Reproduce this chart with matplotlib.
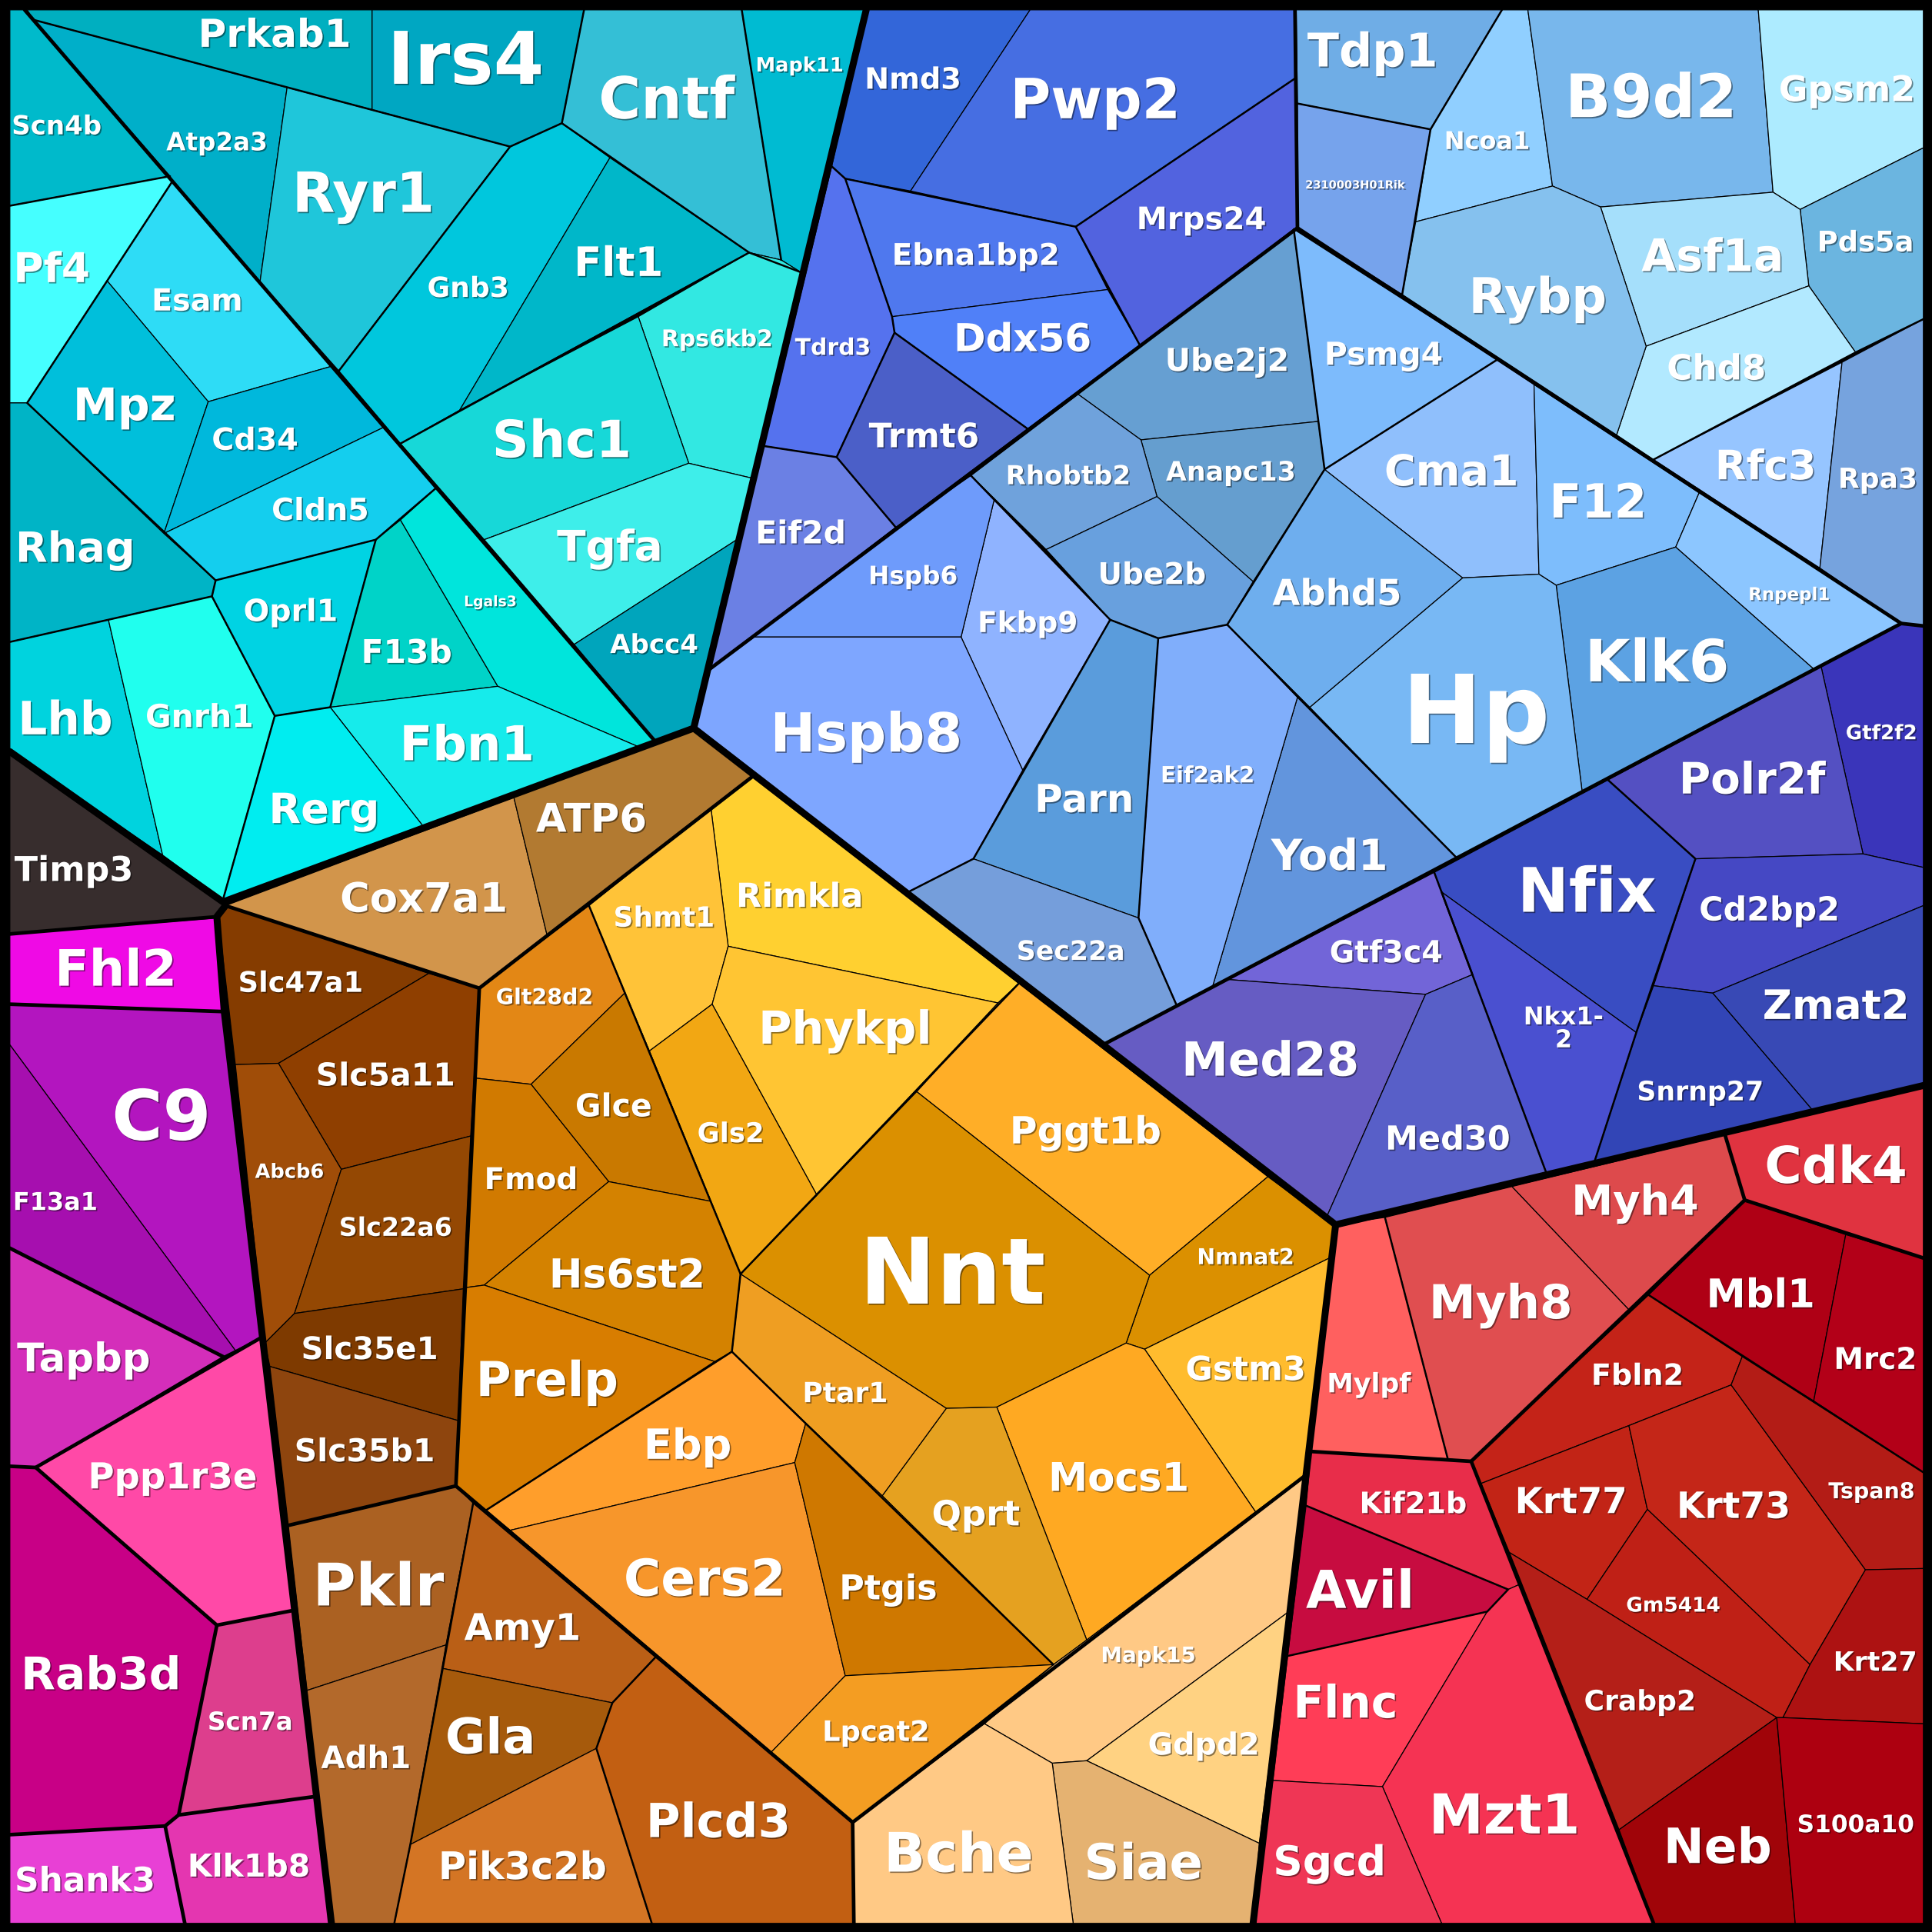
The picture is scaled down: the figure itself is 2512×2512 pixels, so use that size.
"""Voronoi treemap of mouse genes, white labels on coloured cells."""

import matplotlib
matplotlib.use("Agg")
import matplotlib.pyplot as plt
from matplotlib.patches import Polygon
import matplotlib.patheffects as pe

# polygon corners (1568 units across, y downwards)
CELLS = {
    "Prkab1": [(22,8),(302,8),(302,89),(233,71),(27,16)],
    "Irs4": [(302,8),(474,8),(456,100),(414,119),(302,89)],
    "Cntf": [(474,8),(602,8),(634,211),(608,205),(495,128),(456,100)],
    "Mapk11": [(602,8),(703,8),(650,221),(634,211)],
    "Atp2a3": [(27,16),(233,71),(211,229)],
    "Ryr1": [(233,71),(414,119),(275,301),(211,229)],
    "Gnb3": [(414,119),(456,100),(495,128),(373,333),(325,360),(275,301)],
    "Flt1": [(495,128),(608,205),(373,333)],
    "Rps6kb2": [(518,257),(608,205),(634,211),(650,221),(610,388),(559,376)],
    "Shc1": [(325,360),(373,333),(518,257),(559,376),(393,438)],
    "Tgfa": [(393,438),(559,376),(610,388),(598,438),(466,523)],
    "Abcc4": [(466,523),(598,438),(563,591),(532,602)],
    "Scn4b": [(8,8),(20,8),(138,143),(8,167)],
    "Pf4": [(8,167),(138,143),(140,147),(87,228),(22,327),(8,327)],
    "Esam": [(140,147),(270,297),(169,326),(87,228)],
    "Mpz": [(87,228),(169,326),(133,433),(22,327)],
    "Cd34": [(169,326),(270,297),(311,347),(133,433)],
    "Cldn5": [(133,433),(311,347),(354,396),(305,438),(175,471)],
    "Rhag": [(8,327),(22,327),(133,433),(175,471),(172,484),(88,503),(8,521)],
    "Lhb": [(8,521),(88,503),(132,694),(8,610)],
    "Gnrh1": [(88,503),(172,484),(223,581),(181,730),(132,694)],
    "Oprl1": [(172,484),(175,471),(305,438),(268,574),(223,581)],
    "F13b": [(305,438),(325,422),(404,557),(268,574)],
    "Lgals3": [(325,422),(354,396),(532,602),(518,606),(404,557)],
    "Fbn1": [(268,574),(404,557),(518,606),(343,670)],
    "Rerg": [(223,581),(268,574),(343,670),(181,730)],
    "Timp3": [(8,610),(181,730),(183,734),(176,744),(8,758)],
    "Cox7a1": [(183,735),(417,647),(444,759),(389,802)],
    "ATP6": [(417,647),(563,591),(611,630),(444,759)],
    "Rimkla": [(611,630),(827,798),(810,814),(591,768),(577,656)],
    "Shmt1": [(478,735),(577,656),(591,768),(578,815),(527,853)],
    "Phykpl": [(591,768),(810,814),(663,970),(578,815)],
    "Pggt1b": [(827,798),(1029,955),(933,1035),(744,886),(810,814)],
    "Nmnat2": [(1029,955),(1084,995),(1081,1020),(929,1095),(914,1090),(933,1035)],
    "Nnt": [(744,886),(933,1035),(914,1090),(809,1142),(768,1143),(601,1034),(663,970)],
    "Gstm3": [(1081,1020),(1060,1197),(1019,1227),(929,1095)],
    "Mocs1": [(914,1090),(929,1095),(1019,1227),(882,1331),(809,1142)],
    "Qprt": [(768,1143),(809,1142),(882,1331),(855,1351),(716,1214)],
    "Ptar1": [(601,1034),(768,1143),(716,1214),(654,1155),(594,1097)],
    "Gls2": [(527,853),(578,815),(663,970),(601,1034)],
    "Glt28d2": [(389,802),(478,735),(507,806),(431,880),(386,875)],
    "Glce": [(507,806),(527,853),(577,975),(494,959),(431,880)],
    "Fmod": [(386,875),(431,880),(494,959),(393,1043),(378,1045)],
    "Hs6st2": [(494,959),(577,975),(601,1034),(594,1097),(580,1105),(393,1043)],
    "Prelp": [(378,1045),(393,1043),(580,1105),(394,1226),(370,1206)],
    "Ebp": [(594,1097),(654,1155),(645,1187),(414,1242),(394,1226)],
    "Cers2": [(414,1242),(645,1187),(686,1360),(626,1422)],
    "Ptgis": [(654,1155),(716,1214),(855,1351),(686,1360),(645,1187)],
    "Lpcat2": [(686,1360),(855,1351),(692,1479),(626,1422)],
    "Mapk15": [(799,1399),(855,1351),(882,1331),(1060,1197),(1046,1308),(882,1429),(854,1431)],
    "Gdpd2": [(1046,1308),(1022,1496),(882,1429)],
    "Siae": [(854,1431),(882,1429),(1022,1496),(1017,1561),(871,1561)],
    "Bche": [(692,1479),(799,1399),(854,1431),(871,1561),(693,1561)],
    "Pklr": [(234,1238),(370,1206),(384,1220),(362,1335),(249,1372)],
    "Adh1": [(249,1372),(362,1335),(333,1497),(320,1561),(269,1561)],
    "Amy1": [(384,1220),(532,1345),(497,1382),(359,1354),(362,1335)],
    "Gla": [(359,1354),(497,1382),(484,1419),(333,1497)],
    "Pik3c2b": [(333,1497),(484,1419),(529,1561),(320,1561)],
    "Plcd3": [(532,1345),(692,1479),(693,1561),(529,1561),(484,1419),(497,1382)],
    "Slc47a1": [(177,743),(184,735),(348,790),(226,863),(191,864)],
    "Slc5a11": [(348,790),(389,802),(382,922),(277,949),(226,863)],
    "Abcb6": [(191,864),(226,863),(277,949),(239,1066),(215,1090)],
    "Slc22a6": [(277,949),(382,922),(376,1046),(239,1066)],
    "Slc35e1": [(239,1066),(376,1046),(372,1153),(219,1109),(215,1090)],
    "Slc35b1": [(219,1109),(372,1153),(370,1206),(234,1238)],
    "Fhl2": [(8,758),(176,745),(182,821),(8,815)],
    "C9": [(8,815),(182,821),(213,1085),(191,1096),(8,848)],
    "F13a1": [(8,848),(191,1096),(181,1101),(8,1013)],
    "Tapbp": [(8,1013),(181,1101),(29,1191),(8,1190)],
    "Ppp1r3e": [(29,1191),(213,1085),(238,1307),(176,1319)],
    "Rab3d": [(8,1190),(29,1191),(176,1319),(145,1473),(134,1482),(8,1489)],
    "Scn7a": [(176,1319),(238,1307),(256,1458),(145,1473)],
    "Klk1b8": [(145,1473),(256,1458),(269,1561),(150,1561),(134,1482)],
    "Shank3": [(8,1489),(134,1482),(150,1561),(8,1561)],
    "Nmd3": [(703,8),(836,8),(739,155),(686,145),(675,135)],
    "Pwp2": [(836,8),(1051,8),(1052,63),(873,184),(739,155)],
    "Mrps24": [(1052,63),(1053,185),(925,280),(873,184)],
    "Ebna1bp2": [(686,145),(873,184),(899,235),(724,257)],
    "Ddx56": [(724,257),(899,235),(925,280),(834,348),(726,270)],
    "Tdrd3": [(675,135),(686,145),(724,257),(726,270),(679,371),(620,362)],
    "Trmt6": [(726,270),(834,348),(727,428),(679,371)],
    "Eif2d": [(620,362),(679,371),(727,428),(576,543)],
    "Ube2j2": [(1050,186),(1070,342),(926,357),(875,320)],
    "Anapc13": [(926,357),(1070,342),(1075,381),(1017,472),(939,403)],
    "Rhobtb2": [(875,320),(926,357),(939,403),(849,446),(788,386)],
    "Ube2b": [(849,446),(939,403),(1017,472),(996,507),(940,518),(901,503)],
    "Psmg4": [(1050,186),(1215,292),(1075,381),(1070,342)],
    "Cma1": [(1215,292),(1245,312),(1249,466),(1187,469),(1075,381)],
    "F12": [(1245,312),(1379,400),(1360,444),(1263,475),(1249,466)],
    "Rnpepl1": [(1379,400),(1543,506),(1472,543),(1360,444)],
    "Klk6": [(1263,475),(1360,444),(1472,543),(1284,642)],
    "Hp": [(1187,469),(1249,466),(1263,475),(1284,642),(1182,696),(1063,574)],
    "Abhd5": [(1075,381),(1187,469),(1063,574),(996,507)],
    "Yod1": [(1053,566),(1182,696),(984,801)],
    "Eif2ak2": [(940,518),(996,507),(1053,566),(984,801),(955,816),(924,745)],
    "Parn": [(901,503),(940,518),(924,745),(790,697),(830,625)],
    "Fkbp9": [(807,405),(901,503),(830,625),(780,517)],
    "Hspb6": [(788,386),(807,405),(780,517),(612,517),(727,428)],
    "Hspb8": [(612,517),(780,517),(830,625),(790,697),(737,724),(563,591),(576,543)],
    "Sec22a": [(790,697),(924,745),(955,816),(897,847),(737,724)],
    "Tdp1": [(1052,8),(1219,8),(1161,105),(1053,84)],
    "2310003H01Rik": [(1053,84),(1161,105),(1149,180),(1138,239),(1053,185)],
    "Ncoa1": [(1219,8),(1240,8),(1260,151),(1149,180),(1161,105)],
    "B9d2": [(1240,8),(1427,8),(1439,156),(1299,168),(1260,151)],
    "Gpsm2": [(1427,8),(1561,8),(1561,120),(1461,170),(1439,156)],
    "Pds5a": [(1461,170),(1561,120),(1561,259),(1506,286),(1468,232)],
    "Asf1a": [(1299,168),(1439,156),(1461,170),(1468,232),(1336,281)],
    "Chd8": [(1336,281),(1468,232),(1506,286),(1342,373),(1312,353)],
    "Rybp": [(1149,180),(1260,151),(1299,168),(1336,281),(1312,353),(1138,239)],
    "Rfc3": [(1342,373),(1495,294),(1477,461)],
    "Rpa3": [(1495,294),(1561,259),(1561,508),(1543,506),(1477,461)],
    "Gtf2f2": [(1478,541),(1543,506),(1561,508),(1561,704),(1512,693)],
    "Polr2f": [(1305,633),(1478,541),(1512,693),(1376,697)],
    "Nfix": [(1164,708),(1305,633),(1376,697),(1342,800),(1328,838),(1170,724)],
    "Cd2bp2": [(1376,697),(1512,693),(1561,704),(1561,735),(1390,806),(1342,800)],
    "Zmat2": [(1390,806),(1561,735),(1561,881),(1471,901)],
    "Snrnp27": [(1342,800),(1390,806),(1471,901),(1294,943),(1328,838)],
    "Nkx1-\n2": [(1170,724),(1328,838),(1294,943),(1255,952)],
    "Gtf3c4": [(1164,708),(1170,724),(1195,791),(1157,807),(997,795)],
    "Med28": [(997,795),(1157,807),(1077,987),(1084,994),(897,847)],
    "Med30": [(1157,807),(1195,791),(1255,952),(1084,994),(1077,987)],
    "Cdk4": [(1400,921),(1561,881),(1561,1021),(1416,974)],
    "Myh4": [(1227,963),(1400,921),(1416,974),(1322,1063)],
    "Myh8": [(1124,988),(1227,963),(1322,1063),(1194,1186),(1175,1184)],
    "Mylpf": [(1084,994),(1124,988),(1175,1184),(1064,1178)],
    "Mbl1": [(1338,1051),(1416,974),(1498,1002),(1472,1137),(1414,1101)],
    "Mrc2": [(1498,1002),(1561,1021),(1561,1195),(1472,1137)],
    "Fbln2": [(1338,1051),(1414,1101),(1405,1124),(1322,1157),(1202,1204),(1194,1186)],
    "Krt77": [(1202,1204),(1322,1157),(1337,1225),(1288,1298),(1225,1260)],
    "Krt73": [(1322,1157),(1405,1124),(1514,1274),(1469,1351),(1337,1225)],
    "Gm5414": [(1288,1298),(1337,1225),(1469,1351),(1447,1394),(1442,1394)],
    "Crabp2": [(1225,1260),(1288,1298),(1442,1394),(1314,1485)],
    "Tspan8": [(1414,1101),(1561,1195),(1561,1273),(1514,1274),(1405,1124)],
    "Krt27": [(1514,1274),(1561,1273),(1561,1399),(1447,1394),(1469,1351)],
    "Neb": [(1314,1485),(1442,1394),(1457,1561),(1342,1561)],
    "S100a10": [(1442,1394),(1447,1394),(1561,1399),(1561,1561),(1457,1561)],
    "Kif21b": [(1064,1178),(1194,1186),(1233,1286),(1224,1290),(1060,1222)],
    "Avil": [(1060,1222),(1224,1290),(1207,1308),(1045,1344)],
    "Flnc": [(1045,1344),(1207,1308),(1122,1450),(1033,1445)],
    "Mzt1": [(1207,1308),(1224,1290),(1233,1286),(1342,1561),(1170,1561),(1122,1450)],
    "Sgcd": [(1033,1445),(1122,1450),(1170,1561),(1017,1561)],
}

COLORS = {
    "Prkab1": "#00AFC0", "Irs4": "#00A7C2", "Cntf": "#34BFD6", "Mapk11": "#00BBD2",
    "Atp2a3": "#00AFC9", "Ryr1": "#1FC6DA", "Gnb3": "#00C7DD", "Flt1": "#00B7C9",
    "Rps6kb2": "#32E8E2", "Shc1": "#17D8D8", "Tgfa": "#3EEEEA", "Abcc4": "#00A5BC",
    "Scn4b": "#00BACB", "Pf4": "#45FFFF", "Esam": "#2EDCF6", "Mpz": "#00BFDB",
    "Cd34": "#00B8DC", "Cldn5": "#14CEEE", "Rhag": "#00B4C6", "Lhb": "#00D3DE",
    "Gnrh1": "#20FFEE", "Oprl1": "#00D3E3", "F13b": "#00D3C8", "Lgals3": "#00E5DC",
    "Fbn1": "#16EBEB", "Rerg": "#00EDF0", "Timp3": "#372D2D",
    "Cox7a1": "#D2954B", "ATP6": "#B27A31", "Rimkla": "#FFD030", "Shmt1": "#FFC338",
    "Phykpl": "#FFC533", "Pggt1b": "#FFAE27", "Nmnat2": "#DB9000", "Nnt": "#DB9000",
    "Gstm3": "#FFBC2E", "Mocs1": "#FFA922", "Qprt": "#E5A120", "Ptar1": "#EF9E22",
    "Gls2": "#F2A713", "Glt28d2": "#E38715", "Glce": "#C97900", "Fmod": "#D17A00",
    "Hs6st2": "#D48200", "Prelp": "#D87D00", "Ebp": "#FF9E2B", "Cers2": "#F7962B",
    "Ptgis": "#CF7800", "Lpcat2": "#F49D22", "Mapk15": "#FFC985", "Gdpd2": "#FFD282",
    "Siae": "#E5B271", "Bche": "#FFC985", "Pklr": "#AB6122", "Adh1": "#B3692B",
    "Amy1": "#BA5F16", "Gla": "#A65A0C", "Pik3c2b": "#D47524", "Plcd3": "#C25F12",
    "Slc47a1": "#853C00", "Slc5a11": "#8F3F00", "Abcb6": "#A04D08", "Slc22a6": "#944803",
    "Slc35e1": "#7E3A00", "Slc35b1": "#8E450E", "Fhl2": "#EF0AE5", "C9": "#B315BF",
    "F13a1": "#A60FAF", "Tapbp": "#D42EBA", "Ppp1r3e": "#FF49A7", "Rab3d": "#C80086",
    "Scn7a": "#DD3E8D", "Klk1b8": "#E436B0", "Shank3": "#E840D5",
    "Nmd3": "#3366D9", "Pwp2": "#466EE2", "Mrps24": "#5263DF", "Ebna1bp2": "#4F78EE",
    "Ddx56": "#5080F8", "Tdrd3": "#5572EE", "Trmt6": "#4B5FC8", "Eif2d": "#6B80E4",
    "Hspb6": "#6E9BFB", "Fkbp9": "#8FB3FF", "Hspb8": "#7EA6FF", "Parn": "#5A9CDC",
    "Eif2ak2": "#80AEFB", "Yod1": "#6295DD", "Sec22a": "#759EDB", "Ube2j2": "#669FD2",
    "Anapc13": "#659ECF", "Rhobtb2": "#6FA2DC", "Ube2b": "#68A0DE", "Psmg4": "#7DBBFC",
    "Cma1": "#8FBFFC", "F12": "#7DBDFC", "Rnpepl1": "#8CC6FF", "Klk6": "#5CA2E3",
    "Hp": "#78B8F4", "Abhd5": "#6EAEEE", "Tdp1": "#6FADE6", "2310003H01Rik": "#76A3EC",
    "Ncoa1": "#90CFFF", "B9d2": "#78B7EC", "Gpsm2": "#ADEBFF", "Pds5a": "#6BB5E0",
    "Asf1a": "#A5DFFB", "Chd8": "#B2E9FF", "Rybp": "#85C1EE", "Rfc3": "#96C5FF",
    "Rpa3": "#76A3DE", "Gtf2f2": "#3A35BA", "Polr2f": "#5450C2", "Nfix": "#394DC2",
    "Cd2bp2": "#4548C4", "Zmat2": "#3849B5", "Snrnp27": "#3245B6", "Nkx1-\n2": "#4A50D0",
    "Gtf3c4": "#7265D8", "Med28": "#665CC3", "Med30": "#585FC8",
    "Cdk4": "#E03340", "Myh4": "#DD4A4C", "Myh8": "#E04E50", "Mylpf": "#FF605F",
    "Mbl1": "#AF0015", "Mrc2": "#B30018", "Fbln2": "#C42318", "Krt77": "#C22416",
    "Krt73": "#C42618", "Gm5414": "#BF2016", "Crabp2": "#B41F18", "Tspan8": "#B31C16",
    "Krt27": "#AD1212", "Neb": "#A00409", "S100a10": "#AD0010", "Kif21b": "#E82D4A",
    "Avil": "#C70C40", "Flnc": "#FF3D57", "Mzt1": "#F53353", "Sgcd": "#EF3655",
}

# label centre x and baseline y
LABEL_POS = {
    "Prkab1": (223,38), "Irs4": (378,68), "Cntf": (541,96), "Mapk11": (649,58),
    "Atp2a3": (176,122), "Ryr1": (295,172), "Gnb3": (380,241), "Flt1": (502,224),
    "Rps6kb2": (582,281), "Shc1": (456,371), "Tgfa": (495,455), "Abcc4": (531,530),
    "Scn4b": (46,109), "Pf4": (42,229), "Esam": (160,252), "Mpz": (101,341),
    "Cd34": (207,365), "Cldn5": (260,422), "Rhag": (61,456), "Lhb": (53,596),
    "Gnrh1": (162,590), "Oprl1": (236,504), "F13b": (330,538), "Lgals3": (398,492),
    "Fbn1": (379,617), "Rerg": (263,668), "Timp3": (60,715), "Cox7a1": (344,740),
    "ATP6": (480,675), "Rimkla": (649,736), "Shmt1": (539,752), "Phykpl": (686,847),
    "Pggt1b": (881,928), "Nmnat2": (1011,1026), "Nnt": (773,1058), "Gstm3": (1011,1120),
    "Mocs1": (908,1210), "Qprt": (792,1238), "Ptar1": (686,1138), "Gls2": (593,927),
    "Glt28d2": (442,815), "Glce": (498,906), "Fmod": (431,965), "Hs6st2": (509,1045),
    "Prelp": (444,1133), "Ebp": (558,1184), "Cers2": (572,1295), "Ptgis": (721,1298),
    "Lpcat2": (711,1413), "Mapk15": (932,1349), "Gdpd2": (977,1424), "Siae": (928,1525),
    "Bche": (778,1519), "Pklr": (307,1303), "Adh1": (297,1435), "Amy1": (424,1331),
    "Gla": (398,1423), "Pik3c2b": (424,1525), "Plcd3": (583,1491), "Slc47a1": (244,805),
    "Slc5a11": (313,881), "Abcb6": (235,956), "Slc22a6": (321,1003), "Slc35e1": (300,1103),
    "Slc35b1": (296,1186), "Fhl2": (94,800), "C9": (131,925), "F13a1": (45,982),
    "Tapbp": (68,1113), "Ppp1r3e": (140,1208), "Rab3d": (82,1371), "Scn7a": (203,1404),
    "Klk1b8": (202,1523), "Shank3": (69,1535), "Nmd3": (741,72), "Pwp2": (889,96),
    "Mrps24": (975,186), "Ebna1bp2": (792,215), "Ddx56": (830,285), "Tdrd3": (676,288),
    "Trmt6": (750,363), "Eif2d": (650,441), "Hspb6": (741,474), "Fkbp9": (834,513),
    "Hspb8": (703,610), "Parn": (880,659), "Eif2ak2": (980,635), "Yod1": (1079,706),
    "Sec22a": (869,779), "Ube2j2": (996,301), "Anapc13": (999,390), "Rhobtb2": (867,393),
    "Ube2b": (935,474), "Psmg4": (1123,296), "Cma1": (1178,394), "F12": (1297,420),
    "Rnpepl1": (1452,487), "Klk6": (1345,553), "Hp": (1198,603), "Abhd5": (1085,491),
    "Tdp1": (1114,54), "2310003H01Rik": (1100,153), "Ncoa1": (1207,121), "B9d2": (1340,95),
    "Gpsm2": (1499,82), "Pds5a": (1514,204), "Asf1a": (1390,220), "Chd8": (1393,308),
    "Rybp": (1248,254), "Rfc3": (1433,389), "Rpa3": (1524,396), "Gtf2f2": (1527,600),
    "Polr2f": (1422,644), "Nfix": (1288,740), "Cd2bp2": (1436,747), "Zmat2": (1490,827),
    "Snrnp27": (1380,893), "Nkx1-\n2": (1269,850), "Gtf3c4": (1125,781), "Med28": (1031,873),
    "Med30": (1175,933), "Cdk4": (1490,960), "Myh4": (1327,986), "Myh8": (1218,1070),
    "Mylpf": (1111,1130), "Mbl1": (1429,1061), "Mrc2": (1522,1111), "Fbln2": (1329,1124),
    "Krt77": (1275,1228), "Krt73": (1407,1232), "Gm5414": (1358,1308), "Crabp2": (1331,1388),
    "Tspan8": (1519,1216), "Krt27": (1522,1356), "Neb": (1394,1512), "S100a10": (1506,1487),
    "Kif21b": (1147,1228), "Avil": (1104,1305), "Flnc": (1092,1394), "Mzt1": (1221,1488),
    "Sgcd": (1079,1522),
}

LABEL_SIZE = {
    "Prkab1": 36, "Irs4": 68, "Cntf": 54, "Mapk11": 18.5, "Atp2a3": 23.5, "Ryr1": 52,
    "Gnb3": 26, "Flt1": 38, "Rps6kb2": 21.5, "Shc1": 48, "Tgfa": 39.5, "Abcc4": 24.5,
    "Scn4b": 24.5, "Pf4": 38.5, "Esam": 28.5, "Mpz": 42, "Cd34": 28.5, "Cldn5": 28.5, "Rhag": 39,
    "Lhb": 43, "Gnrh1": 29.5, "Oprl1": 28.5, "F13b": 30.5, "Lgals3": 13.5, "Fbn1": 45,
    "Rerg": 39, "Timp3": 32, "Cox7a1": 38, "ATP6": 37, "Rimkla": 31, "Shmt1": 26,
    "Phykpl": 42.5, "Pggt1b": 35, "Nmnat2": 20.5, "Nnt": 86, "Gstm3": 31, "Mocs1": 37,
    "Qprt": 32.5, "Ptar1": 26, "Gls2": 25.5, "Glt28d2": 20.5, "Glce": 29.5, "Fmod": 28,
    "Hs6st2": 37.5, "Prelp": 45, "Ebp": 39, "Cers2": 47.5, "Ptgis": 32, "Lpcat2": 26.5,
    "Mapk15": 20, "Gdpd2": 28.5, "Siae": 46, "Bche": 51, "Pklr": 55, "Adh1": 29,
    "Amy1": 34.5, "Gla": 46, "Pik3c2b": 35.5, "Plcd3": 44, "Slc47a1": 26.5, "Slc5a11": 29.5,
    "Abcb6": 18.5, "Slc22a6": 24, "Slc35e1": 29, "Slc35b1": 29.5, "Fhl2": 47, "C9": 65,
    "F13a1": 23, "Tapbp": 37, "Ppp1r3e": 33.5, "Rab3d": 42, "Scn7a": 23.5, "Klk1b8": 29.5,
    "Shank3": 31.5, "Nmd3": 27.5, "Pwp2": 52, "Mrps24": 29, "Ebna1bp2": 28, "Ddx56": 36,
    "Tdrd3": 21.5, "Trmt6": 31.5, "Eif2d": 29.5, "Hspb6": 23.5, "Fkbp9": 27, "Hspb8": 50.5,
    "Parn": 36, "Eif2ak2": 21, "Yod1": 40, "Sec22a": 25, "Ube2j2": 29.5, "Anapc13": 25,
    "Rhobtb2": 24.5, "Ube2b": 28, "Psmg4": 29.5, "Cma1": 40, "F12": 44, "Rnpepl1": 16.5,
    "Klk6": 54.5, "Hp": 89, "Abhd5": 33.5, "Tdp1": 43.5, "2310003H01Rik": 10.5, "Ncoa1": 23,
    "B9d2": 56, "Gpsm2": 33, "Pds5a": 26.5, "Asf1a": 42, "Chd8": 32.5, "Rybp": 46, "Rfc3": 38,
    "Rpa3": 26, "Gtf2f2": 18.8, "Polr2f": 40.5, "Nfix": 57.5, "Cd2bp2": 30.8, "Zmat2": 38,
    "Snrnp27": 25, "Nkx1-\n2": 23, "Gtf3c4": 28.5, "Med28": 44, "Med30": 31, "Cdk4": 47.5,
    "Myh4": 39, "Myh8": 44, "Mylpf": 25, "Mbl1": 37, "Mrc2": 28, "Fbln2": 27.5,
    "Krt77": 33.5, "Krt73": 34, "Gm5414": 19, "Crabp2": 26, "Tspan8": 20.5, "Krt27": 25,
    "Neb": 45.5, "S100a10": 22.5, "Kif21b": 27.5, "Avil": 49, "Flnc": 42, "Mzt1": 51.5, "Sgcd": 38.5,
}

# group outlines, heaviest first
TOP_LINES = [
    [(703,8),(563,591),(181,732),(8,610)],
    [(563,591),(1084,994),(1561,881)],
    [(1084,994),(1060,1197),(1017,1561)],
    [(183,735),(176,744),(182,821),(213,1085),(269,1561)],
]
GROUP_LINES = [
    [(20,8),(532,602)],
    [(1051,8),(1053,185),(576,543)],
    [(1053,185),(1543,506),(1561,508)],
    [(1543,506),(897,847)],
    [(176,744),(8,758)],
    [(183,735),(389,802),(611,630)],
    [(389,802),(370,1206),(234,1238)],
    [(370,1206),(692,1479),(693,1561)],
    [(692,1479),(1060,1197)],
    [(1064,1178),(1194,1186),(1342,1561)],
    [(1194,1186),(1416,974),(1561,1021)],
    [(1400,921),(1416,974)],
    [(8,1013),(181,1101)],
    [(29,1191),(213,1085)],
    [(8,1190),(29,1191),(176,1319),(238,1307)],
    [(176,1319),(145,1473),(134,1482),(8,1489)],
    [(134,1482),(150,1561)],
    [(145,1473),(256,1458)],
    [(8,815),(182,821)],
]
MID_LINES = [
    [(27,16),(414,119),(456,100),(474,8)],
    [(456,100),(608,205),(650,221)],
    [(602,8),(634,211)],
    [(608,205),(325,360)],
    [(414,119),(275,301)],
    [(8,167),(138,143)],
    [(140,147),(22,327),(175,471),(172,484),(8,521)],
    [(172,484),(223,581),(181,730)],
    [(223,581),(268,574),(305,438),(354,396)],
    [(175,471),(305,438)],
    [(478,735),(601,1034),(594,1097),(855,1351)],
    [(601,1034),(827,798)],
    [(594,1097),(394,1226)],
    [(384,1220),(333,1497),(320,1561)],
    [(532,1345),(497,1382),(484,1419),(529,1561)],
    [(686,145),(873,184),(1052,63)],
    [(873,184),(925,280)],
    [(675,135),(686,145),(724,257),(726,270),(679,371),(727,428)],
    [(620,362),(679,371)],
    [(726,270),(834,348)],
    [(788,386),(901,503),(940,518),(996,507),(1075,381),(1050,186)],
    [(901,503),(790,697),(737,724)],
    [(940,518),(924,745),(955,816)],
    [(996,507),(1182,696)],
    [(1075,381),(1215,292)],
    [(1053,84),(1161,105),(1219,8)],
    [(1161,105),(1138,239)],
    [(1342,373),(1506,286),(1561,259)],
    [(1305,633),(1376,697),(1328,838),(1294,943)],
    [(1170,724),(1255,952)],
    [(1164,708),(1195,791)],
    [(1124,988),(1175,1184)],
    [(1338,1051),(1561,1195)],
    [(1060,1222),(1224,1290),(1207,1308),(1045,1344)],
]

fig = plt.figure(figsize=(25.12, 25.12), dpi=100, facecolor="black")
ax = fig.add_axes([0, 0, 1, 1])
ax.set_xlim(0, 1568)
ax.set_ylim(1568, 0)
ax.axis("off")

for name, corners in CELLS.items():
    ax.add_patch(Polygon(corners, closed=True, facecolor=COLORS[name],
                         edgecolor="black", linewidth=0.9, joinstyle="round"))

for lines, width in ((MID_LINES, 1.8), (GROUP_LINES, 3.4), (TOP_LINES, 6.5)):
    for line in lines:
        xs, ys = zip(*line)
        ax.plot(xs, ys, color="black", linewidth=width,
                solid_joinstyle="round", solid_capstyle="round")

shadow = [pe.withSimplePatchShadow(offset=(1.2, -1.2), shadow_rgbFace="black", alpha=0.45)]
for name, (x, y) in LABEL_POS.items():
    ax.text(x, y, name, color="white", fontsize=LABEL_SIZE[name], fontweight="bold",
            family="DejaVu Sans", ha="center", va="baseline", linespacing=0.95,
            path_effects=shadow)

fig.savefig("out.png", dpi=100, facecolor="black")
plt.close(fig)
